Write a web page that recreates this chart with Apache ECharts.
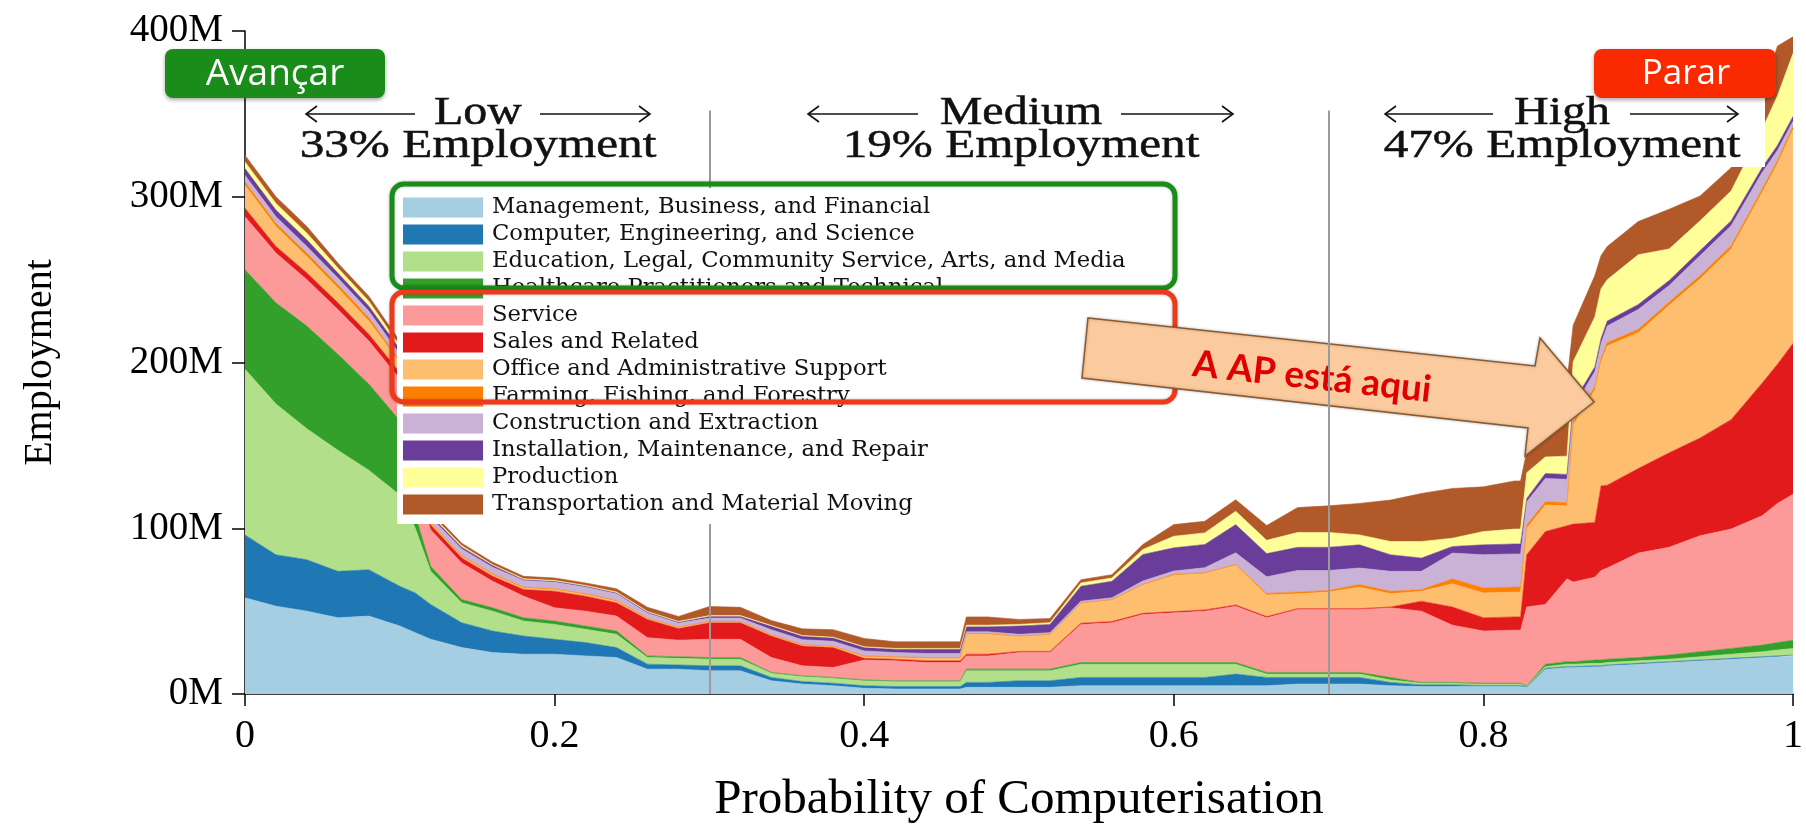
<!DOCTYPE html>
<html><head><meta charset="utf-8">
<script src="https://cdn.jsdelivr.net/npm/echarts@6.0.0/dist/echarts.min.js"></script>
<style>html,body{margin:0;padding:0;background:#fff}#c{width:1806px;height:830px}</style>
</head><body><div id="c"></div>
<script>
// ---- data (millions of employees) ----
const xs = [0,0.02,0.04,0.06,0.08,0.1,0.11,0.12,0.14,0.16,0.18,0.2,0.22,0.24,0.26,0.28,0.3,0.32,0.34,0.36,0.38,0.4,0.42,0.44,0.462,0.466,0.48,0.5,0.52,0.54,0.56,0.58,0.6,0.62,0.64,0.66,0.68,0.7,0.72,0.74,0.76,0.78,0.8,0.82,0.824,0.828,0.84,0.854,0.858,0.872,0.876,0.88,0.9,0.92,0.94,0.96,0.98,0.99,1.0];
const categories = [
  'Management, Business, and Financial',
  'Computer, Engineering, and Science',
  'Education, Legal, Community Service, Arts, and Media',
  'Healthcare Practitioners and Technical',
  'Service',
  'Sales and Related',
  'Office and Administrative Support',
  'Farming, Fishing, and Forestry',
  'Construction and Extraction',
  'Installation, Maintenance, and Repair',
  'Production',
  'Transportation and Material Moving'
];
const mbf   = [58,53,50,46,47,41,37,33,28,25,24,24,23,22,15,15,14,14,8,6,5,3.5,3,3,3,4,4,4,4,5,5,5,5,5,5,5,6,6,6,5,4.5,4.5,4.5,4.5,4.5,4,15,16,16,16.5,16.5,17,18,19,20,21,22,22.5,23];
const ces   = [38,31,31,28,28,24,24,21,15,13,11,9,8,6,3,2.5,3,3,2,1.5,1.5,1.5,1.5,1.5,1.5,3,3,4,4,5,5,5,5,5,7,5,4,4,4,2,1,1,0.7,0.7,0.7,0.4,0.5,0.5,0.5,0.5,0.5,0.5,0.5,0.5,0.5,0.5,0.5,0.5,0.5];
const elc   = [100,91,79,73,60,55,39,20,12,12,9,9,8,8,4,4,4,4,2.5,3,3,3,3,3,3,7,7,6,6,8,8,8,8,8,6,2,2,2,2,1.5,1,1,0.8,0.8,0.8,0.3,1,1.5,1.5,1.5,1.5,1.5,1.5,1.5,2,2.5,3,3.5,4];
const hpt   = [60,61,62,58,52,45,8,3,2,2,2,2,2,2,1,1,1,1,0.5,0.5,0.5,0.5,0.5,0.5,0.5,1,1,1,1,1,1,1,1,1,1,1,1,1,1,1.5,0.5,0.5,0.5,0.5,0.5,0.3,1.5,1.5,1.5,2,2,2,2,2.5,3,3.5,4,4.5,5];
const serv  = [32,30,28,27,26,25,20,22,22,16,13,8,9,9,11,10,11,11,9,6,6,12,12,11,11,8,8,10,10,23,24,29,30,31,34,33,38,38,38,42,43,34.5,31.5,32,32,47.5,36,50,48,50,54,55,63,65,70,72,78,84,88];
const sales = [5,4,4,4,4,4,3,3,3,3,4,10,9,8,11,7,10,10,13,12,12,1,1,1,1,1,1,0.7,0.7,0.7,0.7,0.7,0.7,0.7,0.7,0.7,0.5,0.5,0.5,0.5,6,11,8,8,8,31.5,44,32,35,33,51,50,51,57,59,66,80,84,91];
const off   = [14,12,10,9,8,6,3,1,1,1,1,1,1,1,0.5,0.5,0.5,0.5,0.5,0.5,0.5,1,1,1.5,1.5,12,12,9,10,12,13,17,22,22,24,13,9,10,13,8,6,14,15,15,15,16,16,12,60,80,75,84,82,89,96,103,115,121,129];
const farm  = [2,2,2,2,2,1,1,0.5,0.5,0.5,0.5,0.5,0.5,0.5,0.3,0.3,0.3,0.3,0.3,0.3,0.3,0.5,0.5,0.5,0.5,0.5,0.5,0.3,0.3,0.3,0.3,0.5,0.5,0.5,0.5,1,1,1,1.5,1.5,1,3,3,3,3,2,2,2,2,2,2,2,2,2,2,2,2,2,2];
const cons  = [4,4,4,4,4,4,3,3,4,4,4,4,4,4,3,2.5,2,2,3,3,3,3,2.5,2.5,2.5,1,1,1,1,1,1,2,2,3,7,10,13,12,10,12,11,15.5,20,20,20,14,14,14,8,9,9,10,12,10,12,12,10,6,3];
const inst  = [4,4,4,3,3,3,2,1,1,1,0.5,0.5,0.5,0.5,0.5,0.5,1,1,2,2,2,2,2,2.5,2.5,3,3,5,5,9,10,16,14,14,17,14,14,14,14,10,8,4,6,6,6,2,3,3,3,3,3,3,3,3,3,3,3,3,3];
const prod  = [4,4,4,3,3,2,1,1,1,0.5,0.5,0.5,0.5,0.5,0.5,0.5,0.5,0.5,0.5,0.5,0.5,0.5,0.5,0.5,0.5,1,1,1,1,2,2,3,7,7,8,8,9,9,6,8,10,5,8,9,9,15.5,10,11,25,30,30,25,30,19,18,18,23,30,38];
const trans = [4,4,4,3,3,3,2,2,1.5,1.5,1.5,1.5,1.5,2,2.5,3,5.5,5,3,4,4.5,5,4,4,4,5,5,3,2.5,2,2,3,7,7,7,9,15,16,19,25,29,30,27,29,29,13,25,45,22,25,20,20,20,24,15,14,22,30,10];
const xTicks = [0, 0.2, 0.4, 0.6, 0.8, 1];
const yTicks = [0, 100, 200, 300, 400];
const bands = [
  {name:'Low', share:'33% Employment'},
  {name:'Medium', share:'19% Employment'},
  {name:'High', share:'47% Employment'}
];
const bandEdges = [0.3, 0.7];

// ---- styles ----
const colors = ['#a6cee3','#1f78b4','#b2df8a','#33a02c','#fb9a99','#e31a1c','#fdbf6f','#ff7f00','#cab2d6','#6a3d9a','#ffff99','#b15928'];
const SERIF = '"Liberation Serif","Times New Roman",serif';
const values = [mbf, ces, elc, hpt, serv, sales, off, farm, cons, inst, prod, trans];

// value dimension first so that ECharts stacks the employment values (not x)
const series = categories.map((name, i) => ({
  name, type:'line', stack:'total', symbol:'none', showSymbol:false,
  encode:{x:1, y:0},
  lineStyle:{width:0.6, color:colors[i]},
  itemStyle:{color:colors[i]},
  areaStyle:{color:colors[i], opacity:1},
  data: xs.map((x, j) => [values[i][j], x]),
  z:2, silent:true
}));
const bandLine = (x, z) => ({
  silent:true, symbol:'none', z,
  label:{show:false},
  lineStyle:{color:'#9a9a9a', width:2, type:'solid'},
  data: [[{coord:[x, 0]}, {coord:[x, 352]}]]
});
series[0].markLine = bandLine(bandEdges[0], 3);   // passes behind the legend
series[1].markLine = bandLine(bandEdges[1], 95);  // passes over the callout arrow

// header annotations
const headerCenters = [478, 1021, 1562];
const arrowSpans = [[306,415,540,650],[808,918,1121,1233],[1385,1493,1630,1738]];
const graphics = [];
graphics.push({type:'rect', z:50, shape:{x:1350,y:95,width:415,height:72}, style:{fill:'#fff'}});
const headStyle = (t) => ({text:t, fill:'#111', stroke:'#111', lineWidth:0.5, font:'40px '+SERIF, textAlign:'center', textVerticalAlign:'middle'});
bands.forEach((b, i) => {
  const cx = headerCenters[i];
  graphics.push({type:'text', z:60, x:cx, y:113, scaleX:1.2, style:headStyle(b.name)});
  graphics.push({type:'text', z:60, x:cx, y:146, scaleX:1.23, style:headStyle(b.share)});
  const [a1,a2,b1,b2] = arrowSpans[i];
  graphics.push({type:'polyline', z:60, shape:{points:[[a1,114],[a2,114]]}, style:{stroke:'#111', lineWidth:1.6}});
  graphics.push({type:'polyline', z:60, shape:{points:[[a1+11,106],[a1,114],[a1+11,122]]}, style:{stroke:'#111', lineWidth:1.6, fill:null}});
  graphics.push({type:'polyline', z:60, shape:{points:[[b1,114],[b2,114]]}, style:{stroke:'#111', lineWidth:1.6}});
  graphics.push({type:'polyline', z:60, shape:{points:[[b2-11,106],[b2,114],[b2-11,122]]}, style:{stroke:'#111', lineWidth:1.6, fill:null}});
});
// buttons
graphics.push({type:'rect', z:70, shape:{x:165,y:49,width:220,height:49,r:8}, style:{fill:'#1a8c1a', shadowBlur:4, shadowColor:'rgba(0,0,0,0.35)', shadowOffsetY:2}});
graphics.push({type:'text', z:71, x:275, y:74, style:{text:'Avançar', fill:'#fff', font:'37px "Open Sans",sans-serif', textAlign:'center', textVerticalAlign:'middle'}});
graphics.push({type:'rect', z:70, shape:{x:1594,y:49,width:182,height:49,r:8}, style:{fill:'#fa2a00', shadowBlur:4, shadowColor:'rgba(0,0,0,0.35)', shadowOffsetY:2}});
graphics.push({type:'text', z:71, x:1686, y:74, style:{text:'Parar', fill:'#fff', font:'35px "Open Sans",sans-serif', textAlign:'center', textVerticalAlign:'middle'}});
// legend frames
graphics.push({type:'rect', z:80, shape:{x:392,y:184,width:783,height:104,r:12}, style:{fill:null, stroke:'#1a8c1a', lineWidth:5, shadowBlur:3, shadowColor:'rgba(0,0,0,0.3)'}});
graphics.push({type:'rect', z:80, shape:{x:392,y:292,width:783,height:110,r:12}, style:{fill:null, stroke:'#ec3a1a', lineWidth:5, shadowBlur:3, shadowColor:'rgba(0,0,0,0.3)'}});
// callout arrow
graphics.push({type:'polygon', z:90, shape:{points:[[1088,318],[1535,366],[1540,338],[1594,402],[1525,456],[1528,428],[1082,378]]}, style:{fill:'#fbcb9f', stroke:'#8a5a30', lineWidth:1.5, shadowBlur:3, shadowColor:'rgba(0,0,0,0.25)'}});
graphics.push({type:'text', z:91, x:1312, y:377, rotation:-0.11, style:{text:'A AP está aqui', fill:'#e00000', font:'bold 37px Lato,sans-serif', textAlign:'center', textVerticalAlign:'middle'}});

const chart = echarts.init(document.getElementById('c'), null, {renderer:'canvas'});
chart.setOption({
  animation:false,
  backgroundColor:'#fff',
  grid:{left:245, right:11, top:31, bottom:125, containLabel:false},
  xAxis:{
    type:'value', min:xTicks[0], max:xTicks[xTicks.length-1], interval:0.2,
    axisLine:{show:true, lineStyle:{color:'#000', width:1.5}},
    axisTick:{show:true, length:12, lineStyle:{color:'#000', width:1.5}},
    axisLabel:{color:'#000', fontFamily:SERIF, fontSize:40, margin:22, formatter:v => String(+v.toFixed(1))},
    splitLine:{show:false},
    name:'Probability of Computerisation', nameLocation:'middle', nameGap:82,
    nameTextStyle:{color:'#000', fontFamily:SERIF, fontSize:49}
  },
  yAxis:{
    type:'value', min:yTicks[0], max:yTicks[yTicks.length-1], interval:100,
    axisLine:{show:true, lineStyle:{color:'#000', width:1.5}},
    axisTick:{show:true, length:13, lineStyle:{color:'#000', width:1.5}},
    axisLabel:{color:'#000', fontFamily:SERIF, fontSize:39, margin:22, formatter:'{value}M'},
    splitLine:{show:false},
    name:'Employment', nameLocation:'middle', nameGap:185, nameRotate:90,
    nameTextStyle:{color:'#000', fontFamily:SERIF, fontSize:40}
  },
  legend:{
    show:true, orient:'vertical', left:397, top:188, z:10,
    backgroundColor:'#fff', padding:[8,14,8,6],
    itemWidth:80, itemHeight:20, itemGap:4, icon:'rect',
    selectedMode:false,
    textStyle:{color:'#111', fontFamily:'"DejaVu Serif",serif', fontSize:22.7, lineHeight:20, padding:[0,0,0,4]},
    data:categories
  },
  graphic:{elements:graphics},
  series
});
</script></body></html>
